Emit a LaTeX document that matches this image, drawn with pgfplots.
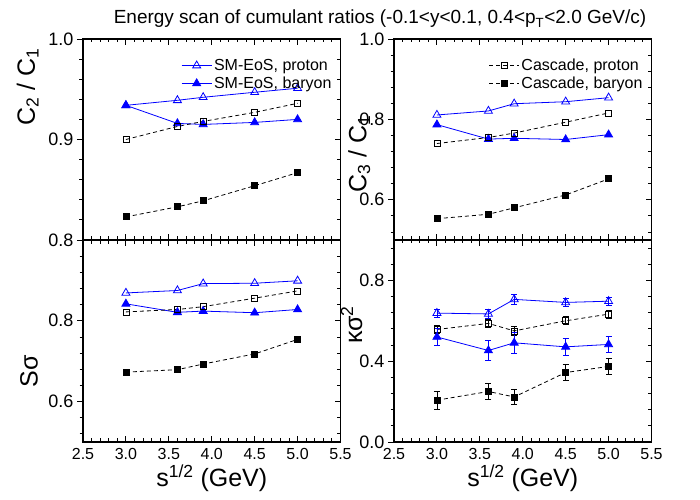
\documentclass[border=0pt]{standalone}
\usepackage{fontspec}
\setmainfont{Liberation Sans}
\usepackage{pgfplots}
\pgfplotsset{compat=1.18}
\pgfplotsset{
  panel/.style={
    scale only axis, width=257.5bp,
    xmin=2.5, xmax=5.5, xtick={2.5,3.0,3.5,4.0,4.5,5.0,5.5}, minor x tick num=4,
    axis line style={line width=1.1pt, black},
    xtick align=inside, ytick align=outside, ytick pos=left,
    major tick length=6bp, minor tick length=3.5bp,
    tick style={black, line width=0.9pt},
    yticklabel style={font=\fontsize{18bp}{20bp}\selectfont,
      /pgf/number format/fixed, /pgf/number format/fixed zerofill,
      /pgf/number format/precision=1, /pgf/number format/assume math mode=true},
    xticklabel style={font=\fontsize{16bp}{18bp}\selectfont, yshift=-3bp,
      /pgf/number format/fixed, /pgf/number format/fixed zerofill,
      /pgf/number format/precision=1, /pgf/number format/assume math mode=true},
    label style={font=\fontsize{25bp}{27bp}\selectfont},
    xlabel style={yshift=2bp},
    ylabel style={anchor=center},
    legend style={draw=none, fill=none, font=\fontsize{16bp}{19bp}\selectfont,
      at={(0.985,0.92)}, anchor=north east, row sep=1bp},
    legend cell align=left,
    legend image code/.code={\draw[mark repeat=2,mark phase=2] plot coordinates {(0bp,0bp) (15bp,0bp) (30bp,0bp)};},
  },
  rt/.style={
    scale only axis, width=257.5bp,
    xmin=2.5, xmax=5.5, hide x axis,
    axis line style={line width=1.1pt, black},
    ytick pos=right, ytick align=inside,
    major tick length=6bp, minor tick length=3.5bp,
    tick style={black, line width=0.9pt},
    yticklabels={},
  },
  smp/.style={color=blue, line width=0.8pt, mark=triangle, mark size=4.6bp, mark options={solid, fill=white}},
  smb/.style={color=blue, line width=0.8pt, mark=triangle*, mark size=4.6bp, mark options={solid, fill=blue}},
  cp/.style={color=black, line width=0.8pt, dash pattern=on 4bp off 3bp, mark=square, mark size=3bp, mark options={solid, fill=white, line width=0.8pt}},
  cb/.style={color=black, line width=0.8pt, dash pattern=on 4bp off 3bp, mark=square*, mark size=3bp, mark options={solid, fill=black}},
}
\begin{document}
\begin{tikzpicture}
\useasboundingbox (0,0) rectangle (700bp,500bp);
\node[font=\fontsize{19bp}{21bp}\selectfont] at (380bp,481bp) {Energy scan of cumulant ratios (-0.1<y<0.1, 0.4<p\textsubscript{T}<2.0 GeV/c)};

% ---------- top left: C2/C1
\begin{axis}[panel, at={(83bp,260bp)}, anchor=south west, height=201bp,
  ymin=0.8, ymax=1.0, ytick={0.8,0.9,1.0},
  minor ytick={0.82,0.84,0.86,0.88,0.92,0.94,0.96,0.98},
  xticklabels={},
  ylabel={C\textsubscript{2} / C\textsubscript{1}},
  ylabel style={at={(axis description cs:-0.215,0.76)}}]
\addplot[smp] coordinates {(3.0,0.934) (3.6,0.939) (3.9,0.942) (4.5,0.947) (5.0,0.951)};
\addlegendentry{SM-EoS, proton}
\addplot[smb] coordinates {(3.0,0.934) (3.6,0.916) (3.9,0.915) (4.5,0.917) (5.0,0.920)};
\addlegendentry{SM-EoS, baryon}
\addplot[cp, forget plot] coordinates {(3.0,0.900) (3.6,0.913) (3.9,0.918) (4.5,0.927) (5.0,0.936)};
\addplot[cb, forget plot] coordinates {(3.0,0.823) (3.6,0.833) (3.9,0.839) (4.5,0.854) (5.0,0.867)};
\end{axis}
\begin{axis}[rt, at={(83bp,260bp)}, anchor=south west, height=201bp,
  ymin=0.8, ymax=1.0, ytick={0.8,0.9,1.0},
  minor ytick={0.82,0.84,0.86,0.88,0.92,0.94,0.96,0.98}]
\end{axis}

% ---------- top right: C3/C1
\begin{axis}[panel, at={(394bp,260bp)}, anchor=south west, height=201bp,
  ymin=0.5, ymax=1.0, ytick={0.6,0.8,1.0},
  minor ytick={0.52,0.56,0.64,0.68,0.72,0.76,0.84,0.88,0.92,0.96},
  xticklabels={},
  ylabel={C\textsubscript{3} / C\textsubscript{1}},
  ylabel style={at={(axis description cs:-0.135,0.43)}}]
\addplot[smp, forget plot] coordinates {(3.0,0.811) (3.6,0.821) (3.9,0.839) (4.5,0.844) (5.0,0.854)};
\addplot[smb, forget plot] coordinates {(3.0,0.787) (3.6,0.751) (3.9,0.753) (4.5,0.750) (5.0,0.762)};
\addplot[cp] coordinates {(3.0,0.740) (3.6,0.755) (3.9,0.766) (4.5,0.793) (5.0,0.816)};
\addlegendentry{Cascade, proton}
\addplot[cb] coordinates {(3.0,0.553) (3.6,0.564) (3.9,0.580) (4.5,0.612) (5.0,0.652)};
\addlegendentry{Cascade, baryon}
\end{axis}
\begin{axis}[rt, at={(394bp,260bp)}, anchor=south west, height=201bp,
  ymin=0.5, ymax=1.0, ytick={0.6,0.8,1.0},
  minor ytick={0.52,0.56,0.64,0.68,0.72,0.76,0.84,0.88,0.92,0.96}]
\end{axis}

% ---------- bottom left: S sigma
\begin{axis}[panel, at={(83bp,58bp)}, anchor=south west, height=202bp,
  ymin=0.5, ymax=1.0, ytick={0.6,0.8},
  minor ytick={0.52,0.56,0.64,0.68,0.72,0.76,0.84,0.88,0.92,0.96},
  xlabel={s\textsuperscript{1/2} (GeV)},
  ylabel={Sσ},
  ylabel style={at={(axis description cs:-0.21,0.35)}}]
\addplot[smp] coordinates {(3.0,0.869) (3.6,0.875) (3.9,0.892) (4.5,0.893) (5.0,0.899)};
\addplot[smb] coordinates {(3.0,0.842) (3.6,0.821) (3.9,0.824) (4.5,0.820) (5.0,0.828)};
\addplot[cp] coordinates {(3.0,0.822) (3.6,0.828) (3.9,0.835) (4.5,0.856) (5.0,0.874)};
\addplot[cb] coordinates {(3.0,0.673) (3.6,0.679) (3.9,0.693) (4.5,0.718) (5.0,0.754)};
\end{axis}
\begin{axis}[rt, at={(83bp,58bp)}, anchor=south west, height=202bp,
  ymin=0.5, ymax=1.0, ytick={0.6,0.8},
  minor ytick={0.52,0.56,0.64,0.68,0.72,0.76,0.84,0.88,0.92,0.96}]
\end{axis}

% ---------- bottom right: kappa sigma^2
\begin{axis}[panel, at={(394bp,58bp)}, anchor=south west, height=202bp,
  ymin=0, ymax=1.0, ytick={0,0.4,0.8},
  minor ytick={0.08,0.16,0.24,0.32,0.48,0.56,0.64,0.72,0.88,0.96},
  xlabel={s\textsuperscript{1/2} (GeV)},
  ylabel={κσ\textsuperscript{2}},
  ylabel style={at={(axis description cs:-0.165,0.58)}}]
\addplot[smp, error bars/.cd, y dir=both, y explicit,
  error bar style={solid, line width=0.8pt},
  error mark options={rotate=90, mark size=3bp, line width=0.8pt, blue}]
  coordinates {(3.0,0.638) +- (0,0.020) (3.6,0.634) +- (0,0.020) (3.9,0.706) +- (0,0.024) (4.5,0.691) +- (0,0.020) (5.0,0.697) +- (0,0.020)};
\addplot[cp, error bars/.cd, y dir=both, y explicit,
  error bar style={solid, line width=0.8pt},
  error mark options={rotate=90, mark size=3bp, line width=0.8pt, black}]
  coordinates {(3.0,0.557) +- (0,0.020) (3.6,0.587) +- (0,0.020) (3.9,0.550) +- (0,0.020) (4.5,0.600) +- (0,0.020) (5.0,0.633) +- (0,0.020)};
\addplot[smb, error bars/.cd, y dir=both, y explicit,
  error bar style={solid, line width=0.8pt},
  error mark options={rotate=90, mark size=3bp, line width=0.8pt, blue}]
  coordinates {(3.0,0.520) +- (0,0.040) (3.6,0.453) +- (0,0.050) (3.9,0.491) +- (0,0.053) (4.5,0.471) +- (0,0.042) (5.0,0.483) +- (0,0.041)};
\addplot[cb, error bars/.cd, y dir=both, y explicit,
  error bar style={solid, line width=0.8pt},
  error mark options={rotate=90, mark size=3bp, line width=0.8pt, black}]
  coordinates {(3.0,0.207) +- (0,0.044) (3.6,0.250) +- (0,0.041) (3.9,0.223) +- (0,0.036) (4.5,0.344) +- (0,0.040) (5.0,0.374) +- (0,0.038)};
\end{axis}
\begin{axis}[rt, at={(394bp,58bp)}, anchor=south west, height=202bp,
  ymin=0, ymax=1.0, ytick={0,0.4,0.8},
  minor ytick={0.08,0.16,0.24,0.32,0.48,0.56,0.64,0.72,0.88,0.96}]
\end{axis}
\end{tikzpicture}
\end{document}
